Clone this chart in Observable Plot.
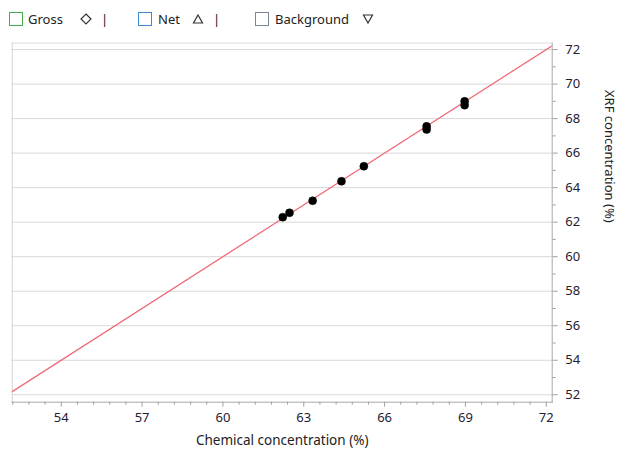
<!DOCTYPE html>
<html>
<head>
<meta charset="utf-8">
<script src="https://cdn.jsdelivr.net/npm/d3@7"></script>
<script src="https://cdn.jsdelivr.net/npm/@observablehq/plot@0.6"></script>
<style>
  html, body { margin: 0; padding: 0; background: #fff; }
  body { width: 619px; height: 461px; overflow: hidden; font-family: "Noto Sans", sans-serif; }
  #legend { position: relative; height: 37px; font-size: 13px; color: #222; }
  #legend .item { position: absolute; top: 10px; display: flex; align-items: center; height: 18px; }
  #chart svg { display: block; }
</style>
</head>
<body>
<div id="legend"></div>
<div id="chart"></div>
<script>
// Data
const chemical = [62.22, 62.47, 63.33, 64.40, 65.23, 67.56, 67.56, 68.97, 68.97];
const xrf      = [62.29, 62.54, 63.24, 64.37, 65.24, 67.37, 67.55, 68.78, 69.00];
const fitSlope = 1.0;
const fitIntercept = 0.0;
const xTicks = [54, 57, 60, 63, 66, 69, 72];
const yTicks = [52, 54, 56, 58, 60, 62, 64, 66, 68, 70, 72];
const legendNames = ["Gross", "Net", "Background"];
const legendColors = ["#3fae49", "#3d86d8", "#7b8794"];
const legendSymbols = ["diamond", "triangle", "triangleDown"];

const xDomain = [52.18, 72.22];
const yDomain = [51.57, 72.38];

// Legend
const legend = document.getElementById("legend");
const symPaths = {
  diamond: "M6 1 L11 6 L6 11 L1 6 Z",
  triangle: "M6 2 L10.5 10 L1.5 10 Z",
  triangleDown: "M1.5 2 L10.5 2 L6 10 Z"
};
const lefts = [9, 138, 255];
const textLeft = [28, 158, 275];
const symLeft = [80, 192, 362];
legendNames.forEach((name, i) => {
  const sq = document.createElement("div");
  sq.className = "item";
  sq.style.left = lefts[i] + "px";
  sq.innerHTML = `<svg width="14" height="14"><rect x="0.5" y="0.5" width="13" height="13" fill="#fff" stroke="${legendColors[i]}" stroke-width="1"/></svg>`;
  legend.appendChild(sq);
  const t = document.createElement("div");
  t.className = "item";
  t.style.left = textLeft[i] + "px";
  t.textContent = name;
  legend.appendChild(t);
  const s = document.createElement("div");
  s.className = "item";
  s.style.left = symLeft[i] + "px";
  s.innerHTML = `<svg width="12" height="12"><path d="${symPaths[legendSymbols[i]]}" fill="none" stroke="#333" stroke-width="1.2"/></svg>` +
    (i < 2 ? `<span style="margin-left:9px;color:#222">|</span>` : "");
  legend.appendChild(s);
});

// Chart
const points = chemical.map((c, i) => ({x: c, y: xrf[i]}));
const fitLine = xDomain.map(x => ({x, y: fitSlope * x + fitIntercept}));
const xMinor = d3.range(0, 34).map(i => +(52.2 + i * 0.6).toFixed(2)).filter(v => !xTicks.includes(v));
const yMinor = d3.range(53, 72, 2);

const plot = Plot.plot({
  width: 619,
  height: 424,
  marginTop: 5.5,
  marginBottom: 59.3,
  marginLeft: 11.7,
  marginRight: 67.3,
  style: {fontFamily: "Noto Sans, sans-serif", fontSize: "13px", color: "#222", background: "#fff"},
  x: {domain: xDomain},
  y: {domain: yDomain},
  marks: [
    Plot.gridY(yTicks, {stroke: "#d8d8d8", strokeOpacity: 1, strokeWidth: 1}),
    Plot.frame({anchor: "top", stroke: "#dcdcdc"}),
    Plot.frame({anchor: "left", stroke: "#d4d4d4"}),
    Plot.line(fitLine, {x: "x", y: "y", stroke: "#f06a7a", strokeWidth: 1.3, clip: true}),
    Plot.dot(points, {x: "x", y: "y", r: 4, fill: "#000", stroke: "#000", strokeWidth: 0.5}),
    Plot.frame({anchor: "right", stroke: "#a8a8a8"}),
    Plot.frame({anchor: "bottom", stroke: "#a8a8a8"}),
    Plot.axisX(xMinor, {tickSize: 3, text: null, stroke: "#a0a0a0", label: null}),
    Plot.axisX(xTicks, {tickSize: 5, tickPadding: 6, stroke: "#a0a0a0", label: null, fill: "#1e2030", fontSize: 13}),
    Plot.axisY(yMinor, {anchor: "right", tickSize: 3, text: null, stroke: "#a0a0a0", label: null}),
    Plot.axisY(yTicks, {anchor: "right", tickSize: 5, tickPadding: 8, stroke: "#a0a0a0", label: null, fill: "#1e2030", fontSize: 13}),
    Plot.text(["Chemical concentration (%)"], {frameAnchor: "bottom", dy: 43, fill: "#222", fontSize: 13.5}),
    Plot.text(["XRF concentration (%)"], {frameAnchor: "right", dx: 57, rotate: 90, fill: "#222", fontSize: 13})
  ]
});
document.getElementById("chart").appendChild(plot);
</script>
</body>
</html>
